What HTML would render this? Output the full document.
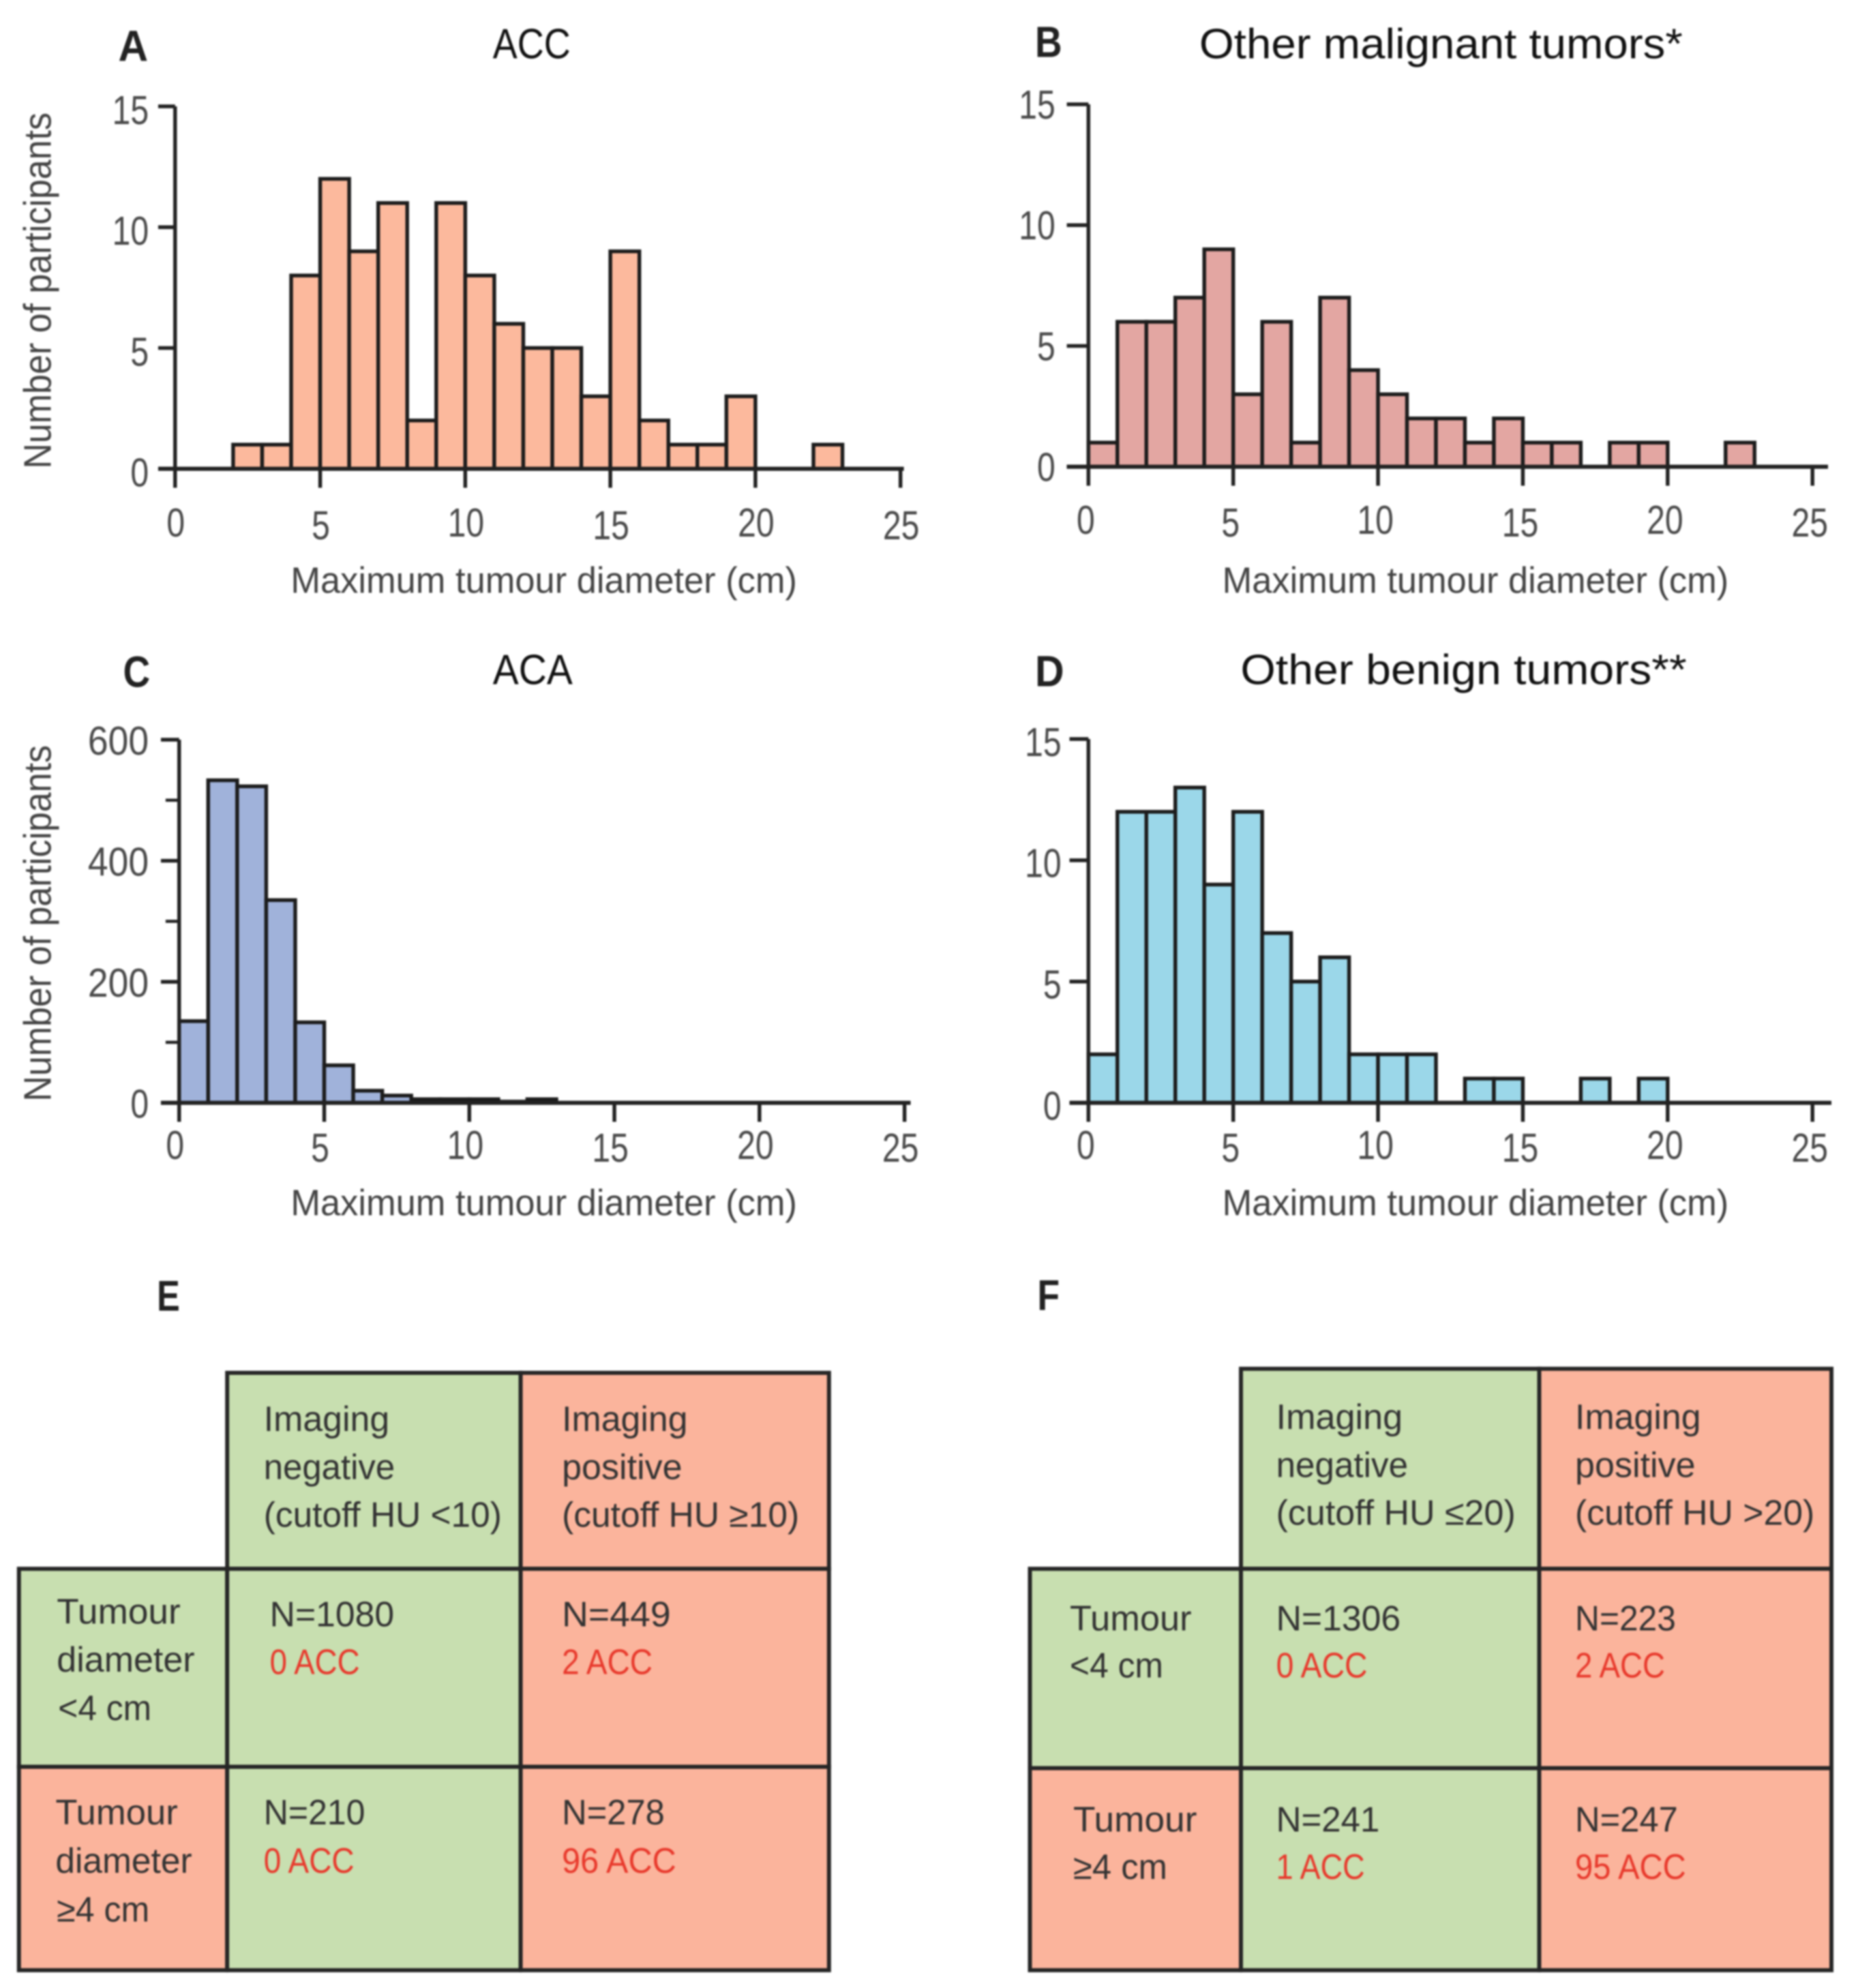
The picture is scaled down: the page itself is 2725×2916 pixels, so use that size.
<!DOCTYPE html>
<html lang="en">
<head>
<meta charset="utf-8">
<title>Tumour diameter histograms and imaging tables</title>
<style>
html,body{margin:0;padding:0;background:#fff}
svg{display:block;filter:blur(1.2px)}
text{font-family:"Liberation Sans",sans-serif}
.ttl{font-size:63px;fill:#111}
.let{font-size:64px;font-weight:bold;fill:#222}
.axt{font-size:54px;fill:#444}
.tb{font-size:52px;fill:#333}
.red{font-size:52px;fill:#e8392c}
.cell{stroke:#262626;stroke-width:6}
</style>
</head>
<body>
<svg id="fig" xmlns="http://www.w3.org/2000/svg" width="2725" height="2916" viewBox="0 0 2725 2916">
<rect width="2725" height="2916" fill="#fff"/>
<g transform="matrix(.9915,0,0,.9937,0,0)">
<text class="let" x="175" y="90" textLength="44" lengthAdjust="spacingAndGlyphs">A</text>
<text class="ttl" x="729" y="86" textLength="115" lengthAdjust="spacingAndGlyphs">ACC</text>
</g>
<g transform="matrix(.9915,0,0,.9937,11.9,0)">
<text class="let" x="1519" y="84" textLength="40" lengthAdjust="spacingAndGlyphs">B</text>
<text class="ttl" x="1762" y="86" textLength="715" lengthAdjust="spacingAndGlyphs">Other malignant tumors*</text>
</g>
<g transform="matrix(.9915,0,0,.9937,0,5.86)">
<text class="let" x="182" y="1008" textLength="40" lengthAdjust="spacingAndGlyphs">C</text>
<text class="ttl" x="729" y="1004" textLength="118" lengthAdjust="spacingAndGlyphs">ACA</text>
</g>
<g transform="matrix(.9915,0,0,.9937,11.9,5.86)">
<text class="let" x="1519" y="1007" textLength="43" lengthAdjust="spacingAndGlyphs">D</text>
<text class="ttl" x="1823" y="1004" textLength="660" lengthAdjust="spacingAndGlyphs">Other benign tumors**</text>
</g>
<g id="charts"></g>

<g transform="matrix(.9917,0,0,.9912,0,16.4)">
<text class="let" x="232" y="1923" textLength="34" lengthAdjust="spacingAndGlyphs">E</text>
<rect class="cell" x="336" y="2015" width="434" height="290" fill="#c8dfb0"/>
<rect class="cell" x="770" y="2015" width="456" height="290" fill="#fbb49c"/>
<rect class="cell" x="28" y="2305" width="308" height="293" fill="#c8dfb0"/>
<rect class="cell" x="336" y="2305" width="434" height="293" fill="#c8dfb0"/>
<rect class="cell" x="770" y="2305" width="456" height="293" fill="#fbb49c"/>
<rect class="cell" x="28" y="2598" width="308" height="301" fill="#fbb49c"/>
<rect class="cell" x="336" y="2598" width="434" height="301" fill="#c8dfb0"/>
<rect class="cell" x="770" y="2598" width="456" height="301" fill="#fbb49c"/>
<text class="tb" x="390" y="2101" textLength="186" lengthAdjust="spacingAndGlyphs">Imaging</text>
<text class="tb" x="390" y="2172" textLength="194" lengthAdjust="spacingAndGlyphs">negative</text>
<text class="tb" x="390" y="2243" textLength="352" lengthAdjust="spacingAndGlyphs">(cutoff HU &lt;10)</text>
<text class="tb" x="831" y="2101" textLength="186" lengthAdjust="spacingAndGlyphs">Imaging</text>
<text class="tb" x="831" y="2172" textLength="178" lengthAdjust="spacingAndGlyphs">positive</text>
<text class="tb" x="831" y="2243" textLength="351" lengthAdjust="spacingAndGlyphs">(cutoff HU ≥10)</text>
<text class="tb" x="84" y="2386" textLength="183" lengthAdjust="spacingAndGlyphs">Tumour</text>
<text class="tb" x="84" y="2457" textLength="204" lengthAdjust="spacingAndGlyphs">diameter</text>
<text class="tb" x="86" y="2529" textLength="138" lengthAdjust="spacingAndGlyphs">&lt;4 cm</text>
<text class="tb" x="82" y="2683" textLength="181" lengthAdjust="spacingAndGlyphs">Tumour</text>
<text class="tb" x="82" y="2755" textLength="202" lengthAdjust="spacingAndGlyphs">diameter</text>
<text class="tb" x="84" y="2827" textLength="137" lengthAdjust="spacingAndGlyphs">≥4 cm</text>
<text class="tb" x="399" y="2390" textLength="184" lengthAdjust="spacingAndGlyphs">N=1080</text>
<text class="red" x="399" y="2461" textLength="133" lengthAdjust="spacingAndGlyphs">0 ACC</text>
<text class="tb" x="831" y="2390" textLength="161" lengthAdjust="spacingAndGlyphs">N=449</text>
<text class="red" x="831" y="2461" textLength="134" lengthAdjust="spacingAndGlyphs">2 ACC</text>
<text class="tb" x="390" y="2683" textLength="150" lengthAdjust="spacingAndGlyphs">N=210</text>
<text class="red" x="390" y="2755" textLength="134" lengthAdjust="spacingAndGlyphs">0 ACC</text>
<text class="tb" x="831" y="2683" textLength="152" lengthAdjust="spacingAndGlyphs">N=278</text>
<text class="red" x="831" y="2755" textLength="169" lengthAdjust="spacingAndGlyphs">96 ACC</text>
</g>

<g transform="matrix(.992,0,0,.9912,11.6,16.4)">
<text class="let" x="1522" y="1922" textLength="33" lengthAdjust="spacingAndGlyphs">F</text>
<rect class="cell" x="1823" y="2009" width="441" height="296" fill="#c8dfb0"/>
<rect class="cell" x="2264" y="2009" width="432" height="296" fill="#fbb49c"/>
<rect class="cell" x="1511" y="2305" width="312" height="295" fill="#c8dfb0"/>
<rect class="cell" x="1823" y="2305" width="441" height="295" fill="#c8dfb0"/>
<rect class="cell" x="2264" y="2305" width="432" height="295" fill="#fbb49c"/>
<rect class="cell" x="1511" y="2600" width="312" height="299" fill="#fbb49c"/>
<rect class="cell" x="1823" y="2600" width="441" height="299" fill="#c8dfb0"/>
<rect class="cell" x="2264" y="2600" width="432" height="299" fill="#fbb49c"/>
<text class="tb" x="1875" y="2098" textLength="187" lengthAdjust="spacingAndGlyphs">Imaging</text>
<text class="tb" x="1875" y="2169" textLength="195" lengthAdjust="spacingAndGlyphs">negative</text>
<text class="tb" x="1875" y="2240" textLength="354" lengthAdjust="spacingAndGlyphs">(cutoff HU ≤20)</text>
<text class="tb" x="2317" y="2098" textLength="186" lengthAdjust="spacingAndGlyphs">Imaging</text>
<text class="tb" x="2317" y="2169" textLength="178" lengthAdjust="spacingAndGlyphs">positive</text>
<text class="tb" x="2317" y="2240" textLength="354" lengthAdjust="spacingAndGlyphs">(cutoff HU &gt;20)</text>
<text class="tb" x="1570" y="2396" textLength="180" lengthAdjust="spacingAndGlyphs">Tumour</text>
<text class="tb" x="1570" y="2466" textLength="138" lengthAdjust="spacingAndGlyphs">&lt;4 cm</text>
<text class="tb" x="1575" y="2694" textLength="183" lengthAdjust="spacingAndGlyphs">Tumour</text>
<text class="tb" x="1575" y="2764" textLength="139" lengthAdjust="spacingAndGlyphs">≥4 cm</text>
<text class="tb" x="1875" y="2396" textLength="184" lengthAdjust="spacingAndGlyphs">N=1306</text>
<text class="red" x="1875" y="2466" textLength="135" lengthAdjust="spacingAndGlyphs">0 ACC</text>
<text class="tb" x="2317" y="2396" textLength="149" lengthAdjust="spacingAndGlyphs">N=223</text>
<text class="red" x="2317" y="2466" textLength="133" lengthAdjust="spacingAndGlyphs">2 ACC</text>
<text class="tb" x="1875" y="2694" textLength="153" lengthAdjust="spacingAndGlyphs">N=241</text>
<text class="red" x="1875" y="2764" textLength="131" lengthAdjust="spacingAndGlyphs">1 ACC</text>
<text class="tb" x="2317" y="2694" textLength="152" lengthAdjust="spacingAndGlyphs">N=247</text>
<text class="red" x="2317" y="2764" textLength="164" lengthAdjust="spacingAndGlyphs">95 ACC</text>
</g>
</svg>
<script>
const accValues = [0,0,1,1,8,12,9,11,2,11,8,6,5,5,3,9,2,1,1,3,0,0,1,0,0];
const otherMalignantValues = [1,6,6,7,9,3,6,1,7,4,3,2,2,1,2,1,1,0,1,1,0,0,1,0,0];
const acaValues = [135,533,523,335,133,62,20,12,6,6,6,2,6,0,0,0,0,0,0,0,0,0,0,0,0];
const otherBenignValues = [2,12,12,13,9,12,7,5,6,2,2,2,0,1,1,0,0,1,0,1,0,0,0,0,0];
const xTickLabels = [0,5,10,15,20,25];
const countTickLabels = [0,5,10,15];
const acaTickLabels = [0,200,400,600];
const acaMinorTicks = [100,300,500];

const NS = 'http://www.w3.org/2000/svg';
const root = document.getElementById('charts');

function el(parent, tag, attrs){
  const e = document.createElementNS(NS, tag);
  for (const k in attrs) e.setAttribute(k, attrs[k]);
  parent.appendChild(e);
  return e;
}

function labelLength(s){
  return s.length === 3 ? 90 : s.length * 27;
}

function drawHistogram(p){
  const xScale = v => p.x0 + (v / 25) * (p.x25 - p.x0);
  const yScale = v => p.y0 - (v / p.yMax) * (p.y0 - p.yTop);

  const g = el(root, 'g', {transform: p.place});
  
  

  p.values.forEach((v, i) => {
    if (v <= 0) return;
    const bar = el(g, 'rect', {x: xScale(i), y: yScale(v), width: xScale(i + 1) - xScale(i), height: p.y0 - yScale(v), fill: p.fill, stroke: '#1c1c1c', 'stroke-width': 5.5});
    
    
  });

  const yAxis = el(g, 'line', {x1: p.x0, x2: p.x0, y1: yScale(p.yMax), y2: p.y0, stroke: '#222', 'stroke-width': 5.5});
  
  

  const xAxis = el(g, 'line', {x1: p.x0 - p.tickLen, x2: p.xEnd, y1: p.y0, y2: p.y0, stroke: '#222', 'stroke-width': 6});
  
  

  xTickLabels.forEach(v => {
    const tick = el(g, 'line', {x1: xScale(v), x2: xScale(v), y1: p.y0, y2: p.y0 + 28, stroke: '#222', 'stroke-width': 5.5});
    
    
    const s = String(v);
    const lowered = s.endsWith('5') ? 4 : 0;
    const label = el(g, 'text', {x: xScale(v) + p.xLabelDx, y: p.xLabelY + lowered, 'text-anchor': 'middle', 'font-size': 60, fill: '#4a4a4a', textLength: labelLength(s), lengthAdjust: 'spacingAndGlyphs'});
    label.textContent = s;
    
    
  });

  p.yTicks.forEach(v => {
    const tick = el(g, 'line', {x1: p.x0 - p.tickLen, x2: p.x0, y1: yScale(v), y2: yScale(v), stroke: '#222', 'stroke-width': 5.5});
    
    
    const s = String(v);
    const label = el(g, 'text', {x: p.yLabelRight, y: yScale(v) + p.yLabelDy, 'text-anchor': 'end', 'font-size': 60, fill: '#4a4a4a', textLength: labelLength(s), lengthAdjust: 'spacingAndGlyphs'});
    label.textContent = s;
    
    
  });

  (p.minor || []).forEach(v => {
    const tick = el(g, 'line', {x1: p.x0 - 20, x2: p.x0, y1: yScale(v), y2: yScale(v), stroke: '#222', 'stroke-width': 4.5});
    
    
  });

  const xTitle = el(g, 'text', {x: p.xTitleX, y: p.xTitleY, class: 'axt', textLength: 749, lengthAdjust: 'spacingAndGlyphs'});
  xTitle.textContent = 'Maximum tumour diameter (cm)';
  
  

  if (p.yTitleY) {
    const yTitle = el(g, 'text', {transform: 'translate(75,' + p.yTitleY + ') rotate(-90)', class: 'axt', style: 'font-size:57px', textLength: 526, lengthAdjust: 'spacingAndGlyphs'});
    yTitle.textContent = 'Number of participants';
    
    
  }
}

drawHistogram({name:'acc', place:'matrix(.9915,0,0,.9937,0,0)', values:accValues, fill:'#fcb99d', x0:259, x25:1332, xEnd:1337, y0:692, yTop:157, yMax:15, yTicks:countTickLabels, tickLen:25, yLabelRight:220, yLabelDy:26, xLabelY:792, xLabelDx:1, xTitleX:430, xTitleY:875, yTitleY:692});
drawHistogram({name:'other-malignant', place:'matrix(.9915,0,0,.9937,11.9,0)', values:otherMalignantValues, fill:'#e3a6a2', x0:1598, x25:2669, xEnd:2692, y0:689, yTop:154, yMax:15, yTicks:countTickLabels, tickLen:32, yLabelRight:1549, yLabelDy:21, xLabelY:788, xLabelDx:-4, xTitleX:1796, xTitleY:875, yTitleY:0});
drawHistogram({name:'aca', place:'matrix(.9915,0,0,.9937,0,5.86)', values:acaValues, fill:'#a0b2da', x0:265, x25:1338, xEnd:1347, y0:1622, yTop:1086, yMax:600, yTicks:acaTickLabels, minor:acaMinorTicks, tickLen:27, yLabelRight:220, yLabelDy:22, xLabelY:1705, xLabelDx:-6, xTitleX:430, xTitleY:1788, yTitleY:1620});
drawHistogram({name:'other-benign', place:'matrix(.9915,0,0,.9937,11.9,5.86)', values:otherBenignValues, fill:'#9bd7e9', x0:1598, x25:2669, xEnd:2697, y0:1622, yTop:1085, yMax:15, yTicks:countTickLabels, tickLen:28, yLabelRight:1558, yLabelDy:25, xLabelY:1705, xLabelDx:-4, xTitleX:1796, xTitleY:1788, yTitleY:0});
</script>
</body>
</html>
